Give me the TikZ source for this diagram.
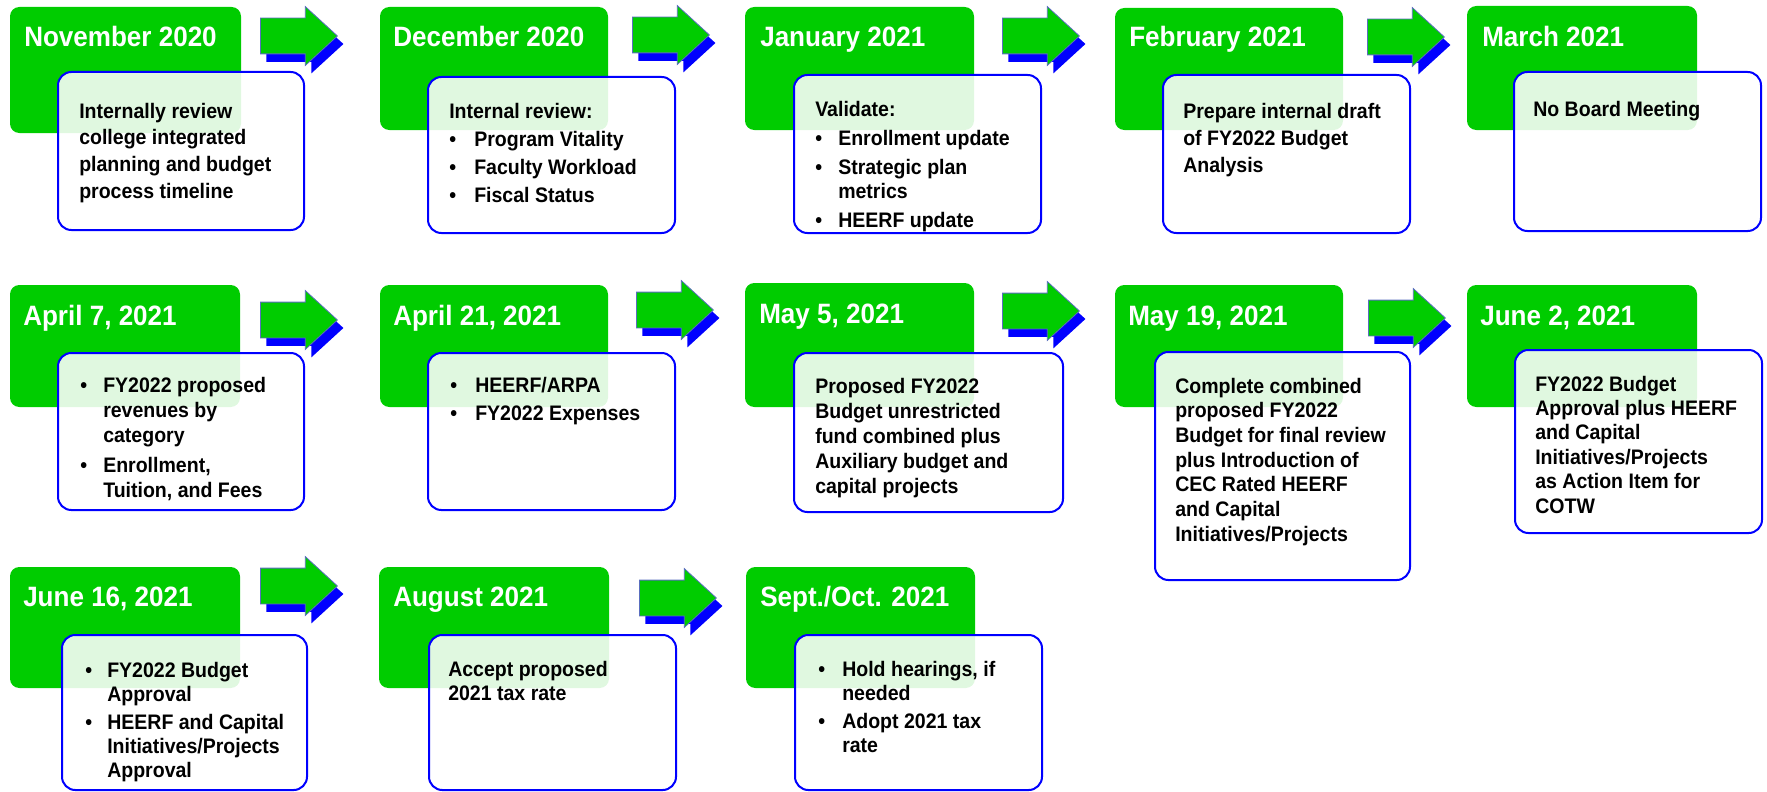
\documentclass[tikz,border=0pt]{standalone}
\usepackage{fontspec}
\newfontfamily\tlfont[FakeStretch=0.93]{Liberation Sans}
\usetikzlibrary{shapes.arrows,shadows,fit}
\definecolor{tlgreen}{RGB}{0,204,0}
\definecolor{tlblue}{RGB}{0,0,255}
\definecolor{tlarrowline}{RGB}{90,110,190}
\begin{document}
\begin{tikzpicture}[x=0.75pt,y=-0.75pt,
  greenbox/.style={fill=tlgreen, draw=none, rounded corners=7pt, inner sep=0pt},
  notebox/.style={fill=white, fill opacity=0.88, draw=tlblue, draw opacity=1, line width=1.5pt, rounded corners=10pt, inner sep=0pt},
  titletext/.style={anchor=base west, inner sep=0pt, text=white, font=\tlfont\bfseries\fontsize{21pt}{25pt}\selectfont},
  bodytext/.style={anchor=base west, inner sep=0pt, text=black, font=\tlfont\bfseries\fontsize{15.75pt}{#1}\selectfont},
  steparrow/.style={single arrow, fill=tlgreen, draw=tlarrowline, line width=0.6pt,
    minimum height=57.75pt, minimum width=43.5pt, inner xsep=0pt, inner ysep=13.125pt,
    single arrow head extend=8.625pt, single arrow tip angle=85, anchor=tail,
    drop shadow={shadow xshift=4.5pt, shadow yshift=-6pt, fill=tlblue, opacity=1}},
]
\useasboundingbox (0,0) rectangle (1767,792);

% ---------------- Row 1 ----------------
\node[greenbox, fit={(10,7) (241,133)}] (g1) {};
\node[notebox, fit={(58,72) (304,230)}] (w1) {};
\node[titletext] (t1) at (24,47) {November 2020};
\node[bodytext=20pt] (b1) at (79,118) {\begin{tabular}[t]{@{}l@{}}Internally review\\college integrated\\planning and budget\\process timeline\end{tabular}};

\node[greenbox, fit={(380,7) (608,130)}] (g2) {};
\node[notebox, fit={(428,77) (675,233)}] (w2) {};
\node[titletext] (t2) at (393,47) {December 2020};
\node[bodytext=21.2pt] (b2) at (449,118) {\begin{tabular}[t]{@{}p{18.75pt}@{}l@{}}\multicolumn{2}{@{}l@{}}{Internal review:}\\•&Program Vitality\\•&Faculty Workload\\•&Fiscal Status\end{tabular}};

\node[greenbox, fit={(745,7) (974,130)}] (g3) {};
\node[notebox, fit={(794,75) (1041,233)}] (w3) {};
\node[titletext] (t3) at (760,47) {January 2021};
\node[bodytext=18pt] (b3) at (815,117) {\begin{tabular}[t]{@{}p{17.25pt}@{}l@{}}\multicolumn{2}{@{}l@{}}{Validate:}\\[3.75pt]•&Enrollment update\\[3.75pt]•&Strategic plan\\&metrics\\[3.75pt]•&HEERF update\end{tabular}};

\node[greenbox, fit={(1115,8) (1343,130)}] (g4) {};
\node[notebox, fit={(1163,75) (1410,233)}] (w4) {};
\node[titletext] (t4) at (1129,47) {February 2021};
\node[bodytext=20.6pt] (b4) at (1183,118) {\begin{tabular}[t]{@{}l@{}}Prepare internal draft\\of FY2022 Budget\\Analysis\end{tabular}};

\node[greenbox, fit={(1467,6) (1697,130)}] (g5) {};
\node[notebox, fit={(1514,72) (1761,231)}] (w5) {};
\node[titletext] (t5) at (1482,47) {March 2021};
\node[bodytext=20pt] (b5) at (1533,117) {\begin{tabular}[t]{@{}l@{}}No Board Meeting\end{tabular}};

% ---------------- Row 2 ----------------
\node[greenbox, fit={(10,285) (240,407)}] (g6) {};
\node[notebox, fit={(58,353) (304,510)}] (w6) {};
\node[titletext] (t6) at (23,325) {April 7, 2021};
\node[bodytext=18.75pt] (b6) at (80,392) {\begin{tabular}[t]{@{}p{17.25pt}@{}l@{}}•&FY2022 proposed\\&revenues by\\&category\\[3.75pt]•&Enrollment,\\&Tuition, and Fees\end{tabular}};

\node[greenbox, fit={(380,285) (608,407)}] (g7) {};
\node[notebox, fit={(428,353) (675,510)}] (w7) {};
\node[titletext] (t7) at (393,325) {April 21, 2021};
\node[bodytext=21.2pt] (b7) at (450,392) {\begin{tabular}[t]{@{}p{18.75pt}@{}l@{}}•&HEERF/ARPA\\•&FY2022 Expenses\end{tabular}};

\node[greenbox, fit={(745,283) (974,407)}] (g8) {};
\node[notebox, fit={(794,353) (1063,512)}] (w8) {};
\node[titletext] (t8) at (759,323) {May 5, 2021};
\node[bodytext=18.75pt] (b8) at (815,393) {\begin{tabular}[t]{@{}l@{}}Proposed FY2022\\Budget unrestricted\\fund combined plus\\Auxiliary budget and\\capital projects\end{tabular}};

\node[greenbox, fit={(1115,285) (1343,407)}] (g9) {};
\node[notebox, fit={(1155,352) (1410,580)}] (w9) {};
\node[titletext] (t9) at (1128,325) {May 19, 2021};
\node[bodytext=18.5pt] (b9) at (1175,393) {\begin{tabular}[t]{@{}l@{}}Complete combined\\proposed FY2022\\Budget for final review\\plus Introduction of\\CEC Rated HEERF\\and Capital\\Initiatives/Projects\end{tabular}};

\node[greenbox, fit={(1467,285) (1697,407)}] (g10) {};
\node[notebox, fit={(1515,350) (1762,533)}] (w10) {};
\node[titletext] (t10) at (1480,325) {June 2, 2021};
\node[bodytext=18.3pt] (b10) at (1535,391) {\begin{tabular}[t]{@{}l@{}}FY2022 Budget\\Approval plus HEERF\\and Capital\\Initiatives/Projects\\as Action Item for\\COTW\end{tabular}};

% ---------------- Row 3 ----------------
\node[greenbox, fit={(10,567) (240,688)}] (g11) {};
\node[notebox, fit={(62,635) (307,790)}] (w11) {};
\node[titletext] (t11) at (23,606) {June 16, 2021};
\node[bodytext=18pt] (b11) at (85,677) {\begin{tabular}[t]{@{}p{16.5pt}@{}l@{}}•&FY2022 Budget\\&Approval\\[3pt]•&HEERF and Capital\\&Initiatives/Projects\\&Approval\end{tabular}};

\node[greenbox, fit={(379,567) (609,688)}] (g12) {};
\node[notebox, fit={(429,635) (676,790)}] (w12) {};
\node[titletext] (t12) at (393,606) {August 2021};
\node[bodytext=18pt] (b12) at (448,676) {\begin{tabular}[t]{@{}l@{}}Accept proposed\\2021 tax rate\end{tabular}};

\node[greenbox, fit={(746,567) (975,688)}] (g13) {};
\node[notebox, fit={(795,635) (1042,790)}] (w13) {};
\node[titletext] (t13) at (760,606) {Sept./Oct. 2021};
\node[bodytext=18pt] (b13) at (818,676) {\begin{tabular}[t]{@{}p{18pt}@{}l@{}}•&Hold hearings, if\\&needed\\[3pt]•&Adopt 2021 tax\\&rate\end{tabular}};

% ---------------- Arrows ----------------
\node[steparrow] (a1) at (260,36) {};
\node[steparrow] (a2) at (632,35) {};
\node[steparrow] (a3) at (1002,36) {};
\node[steparrow] (a4) at (1367,37) {};
\node[steparrow] (a5) at (260,320) {};
\node[steparrow] (a6) at (636,310) {};
\node[steparrow] (a7) at (1002,311) {};
\node[steparrow] (a8) at (1368,318) {};
\node[steparrow] (a9) at (260,586) {};
\node[steparrow] (a10) at (639,598) {};
\end{tikzpicture}
\end{document}
